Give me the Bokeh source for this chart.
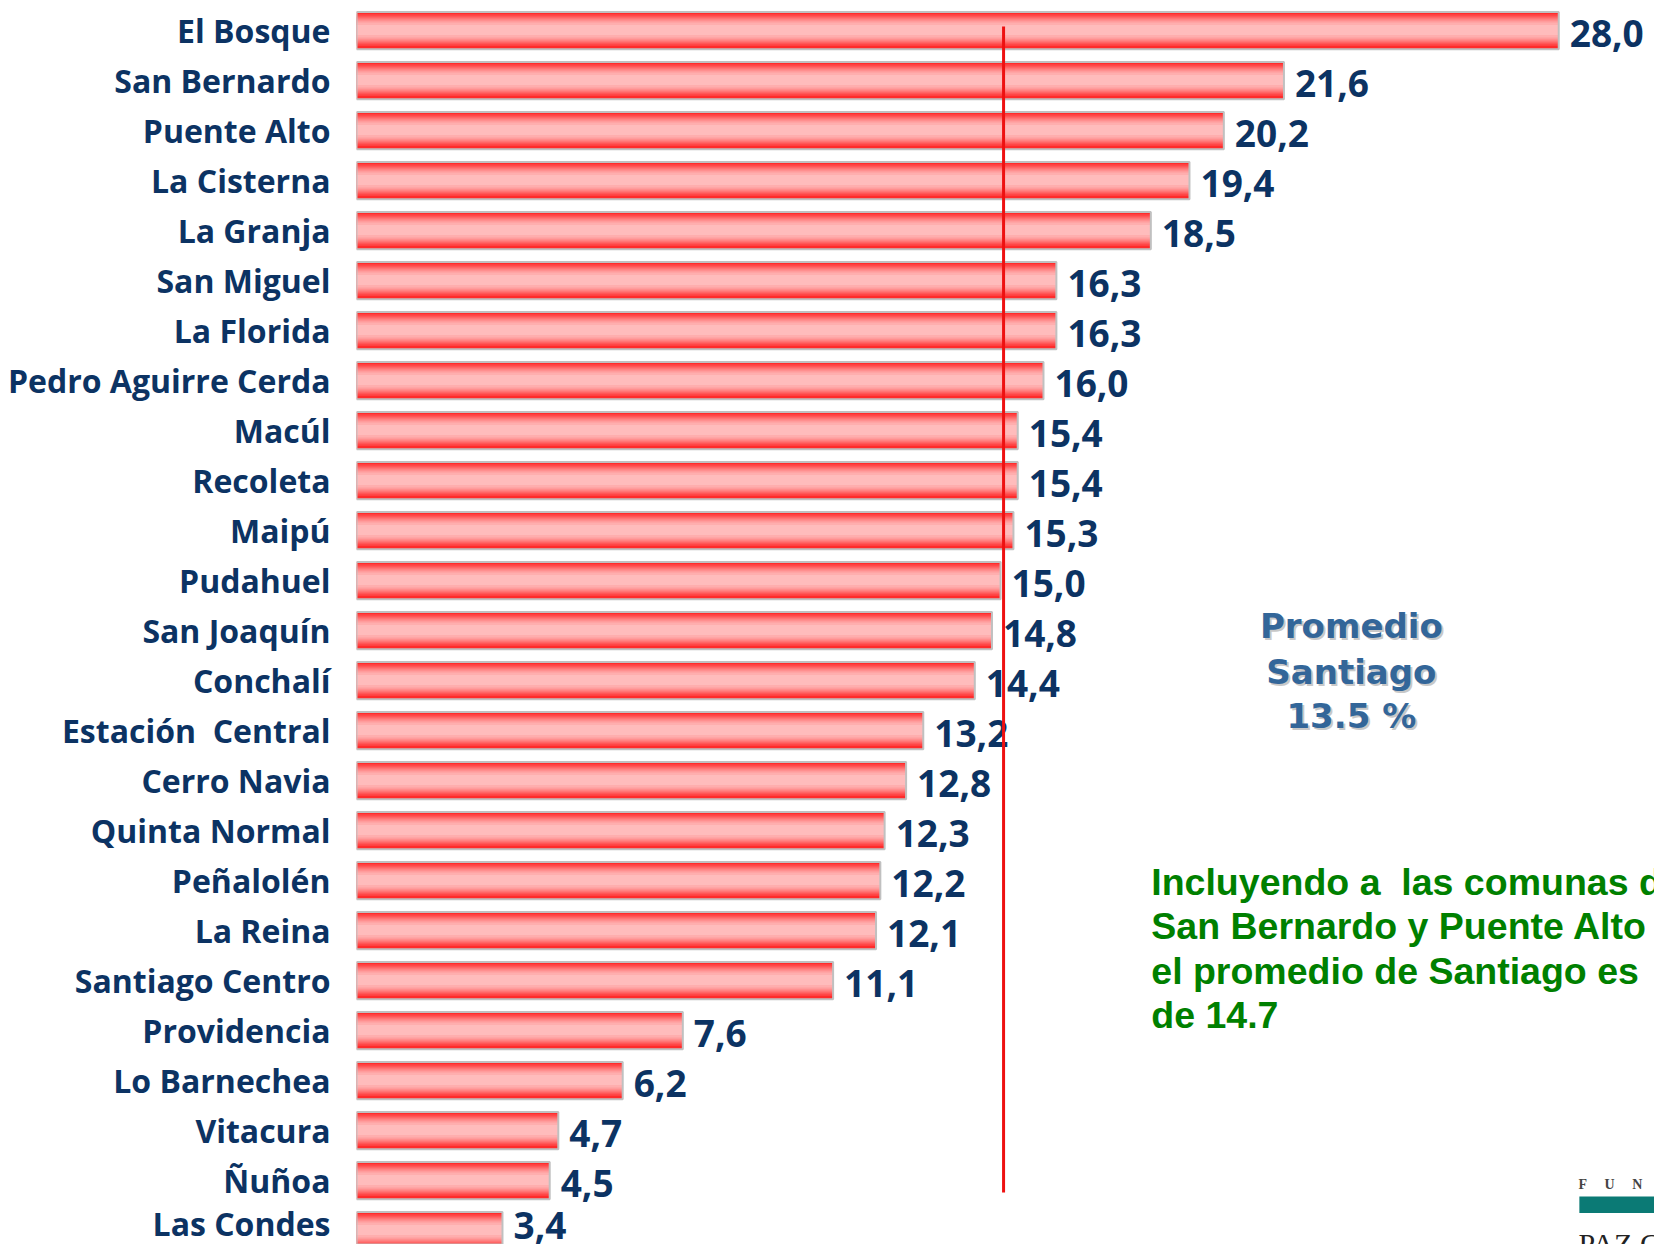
from bokeh.plotting import figure
from bokeh.models import Range1d, FixedTicker, ColumnDataSource
from bokeh.transform import dodge
from bokeh.embed import file_html
from bokeh.resources import INLINE
from bokeh.core.properties import value

# ---------------- data ----------------
comunas = ["El Bosque", "San Bernardo", "Puente Alto", "La Cisterna", "La Granja",
           "San Miguel", "La Florida", "Pedro Aguirre Cerda", "Macúl", "Recoleta",
           "Maipú", "Pudahuel", "San Joaquín", "Conchalí", "Estación\u00a0 Central",
           "Cerro Navia", "Quinta Normal", "Peñalolén", "La Reina", "Santiago Centro",
           "Providencia", "Lo Barnechea", "Vitacura", "Ñuñoa", "Las Condes"]
valores = [28.0, 21.6, 20.2, 19.4, 18.5, 16.3, 16.3, 16.0, 15.4, 15.4,
           15.3, 15.0, 14.8, 14.4, 13.2, 12.8, 12.3, 12.2, 12.1, 11.1,
           7.6, 6.2, 4.7, 4.5, 3.4]
linea_promedio = 15.07

promedio_lineas = ["Promedio", "Santiago", "13.5 %"]
nota_lineas = ["Incluyendo a\u00a0 las comunas de", "San Bernardo y Puente Alto",
               "el promedio de Santiago es", "de 14.7"]

# ---------------- styles ----------------
NAVY = "#0c3363"
FONT = "Open Sans"

W, H = 1654, 1244
LEFT = 356

posiciones = list(range(len(comunas)))
etiquetas = [f"{v:.1f}".replace(".", ",") for v in valores]
# vertical pixel nudge of value labels (last one lifted to stay on the page)
nudge = [3] * (len(valores) - 1) + [-5]
src = ColumnDataSource(dict(y=posiciones, v=valores, lab=etiquetas, dy=nudge))

p = figure(width=W, height=H, output_backend="svg", toolbar_location=None,
           x_range=Range1d(0, 30.23), y_range=Range1d(24.28, -0.6),
           x_axis_location=None, min_border_left=LEFT, min_border_right=0,
           min_border_top=0, min_border_bottom=0)
p.outline_line_color = None
p.xgrid.visible = False
p.ygrid.visible = False
p.background_fill_color = "white"
p.border_fill_color = "white"

ax = p.yaxis[0]
ax.ticker = FixedTicker(ticks=posiciones)
ov = {}
for i, c in enumerate(comunas):
    ov[i] = c
ax.major_label_overrides = ov
ax.axis_line_color = None
ax.major_tick_line_color = None
ax.minor_tick_line_color = None
ax.major_tick_out = 0
ax.major_tick_in = 0
ax.major_label_standoff = 26
ax.major_label_text_font = FONT
ax.major_label_text_font_style = "bold"
ax.major_label_text_font_size = "32px"
ax.major_label_text_color = NAVY

# gradient bars (stacked bands, light core slightly above centre)
bh = 0.745
p.hbar(y="y", left=0, right="v", height=bh, fill_color="#ff2b2b", line_color=None,
       source=src)
capas = [(0.63, "#ff4848"), (0.54, "#ff6666"), (0.46, "#ff8383"),
         (0.38, "#ff9c9c"), (0.30, "#ffaeae"), (0.20, "#ffbcbc")]
for h, c in capas:
    p.hbar(y=dodge("y", -0.012, range=p.y_range), left=0, right="v", height=h,
           fill_color=c, line_color=None, source=src)
p.hbar(y="y", left=0, right="v", height=bh, fill_alpha=0, line_color="#c0c0c0",
       line_width=2, source=src)

# value labels
p.text(x="v", y="y", text="lab", source=src, x_offset=11, y_offset="dy",
       text_font=value(FONT), text_font_style="bold", text_font_size="37px",
       text_color=NAVY, text_baseline="middle", text_align="left")

# average line
p.segment(x0=[linea_promedio], x1=[linea_promedio], y0=[-0.08],
          y1=[len(comunas) - 1.76], line_color="#ee1111", line_width=3)

# "Promedio Santiago" annotation with shadow
py = [11.91, 12.82, 13.70]
px = [23.17] * 3
p.text(x=px, y=py, text=promedio_lineas, x_offset=2, y_offset=2,
       text_font=value("DejaVu Sans"), text_font_style="bold", text_font_size="34px",
       text_color="#c8c8c8", text_align="center", text_baseline="middle")
p.text(x=px, y=py, text=promedio_lineas,
       text_font=value("DejaVu Sans"), text_font_style="bold", text_font_size="34px",
       text_color="#336699", text_align="center", text_baseline="middle")

# green note
p.text(x=[18.51] * 4, y=[17.02, 17.90, 18.81, 19.69], text=nota_lineas,
       text_font=value("Liberation Sans"), text_font_style="bold",
       text_font_size="37.5px", text_color="#008000", text_align="left",
       text_baseline="middle")

# logo fragment (bottom right)
p.text(x=[28.46], y=[23.08], text=["F\u00a0\u00a0\u00a0\u00a0\u00a0U\u00a0\u00a0\u00a0\u00a0\u00a0N"],
       text_font=value("Liberation Serif"),
       text_font_style="bold", text_font_size="14px", text_color="#444444",
       text_baseline="middle")
p.quad(left=[28.48], right=[31], top=[23.32], bottom=[23.65],
       fill_color="#0b7a75", line_color=None)
p.text(x=[28.46], y=[23.93], text=["PAZ CIUDADANA"], text_font=value("Liberation Serif"),
       text_font_size="30px", text_color="#222222", text_baseline="top")

open("out.html", "w").write(file_html(p, INLINE))
